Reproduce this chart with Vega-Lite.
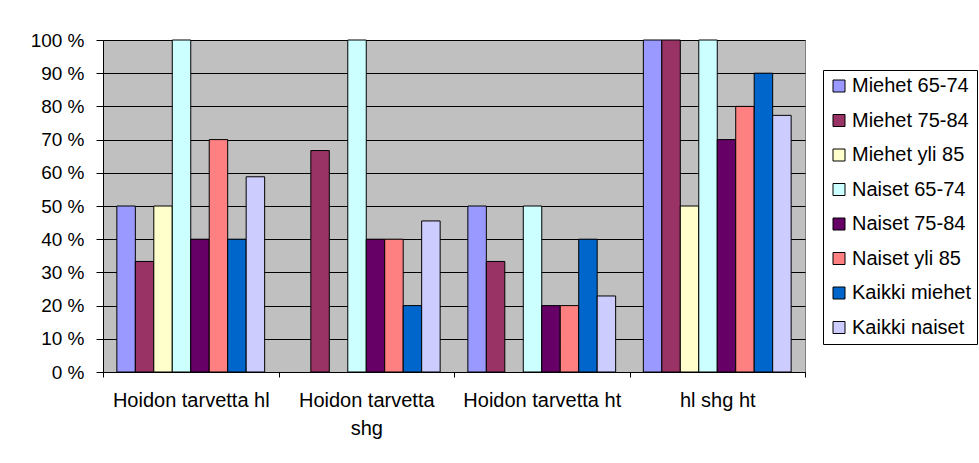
{
  "$schema": "https://vega.github.io/schema/vega-lite/v6.json",
  "autosize": {"type": "none"},
  "width": 702,
  "height": 332,
  "padding": {"left": 103, "top": 40, "right": 174, "bottom": 91},
  "background": "white",
  "data": {
    "values": [
      {"ryhma": "Hoidon tarvetta hl", "sarja": "Miehet 65-74", "osuus": 50},
      {"ryhma": "Hoidon tarvetta hl", "sarja": "Miehet 75-84", "osuus": 33.3},
      {"ryhma": "Hoidon tarvetta hl", "sarja": "Miehet yli 85", "osuus": 50},
      {"ryhma": "Hoidon tarvetta hl", "sarja": "Naiset 65-74", "osuus": 100},
      {"ryhma": "Hoidon tarvetta hl", "sarja": "Naiset 75-84", "osuus": 40},
      {"ryhma": "Hoidon tarvetta hl", "sarja": "Naiset yli 85", "osuus": 70},
      {"ryhma": "Hoidon tarvetta hl", "sarja": "Kaikki miehet", "osuus": 40},
      {"ryhma": "Hoidon tarvetta hl", "sarja": "Kaikki naiset", "osuus": 58.8},
      {"ryhma": "Hoidon tarvetta shg", "sarja": "Miehet 75-84", "osuus": 66.7},
      {"ryhma": "Hoidon tarvetta shg", "sarja": "Naiset 65-74", "osuus": 100},
      {"ryhma": "Hoidon tarvetta shg", "sarja": "Naiset 75-84", "osuus": 40},
      {"ryhma": "Hoidon tarvetta shg", "sarja": "Naiset yli 85", "osuus": 40},
      {"ryhma": "Hoidon tarvetta shg", "sarja": "Kaikki miehet", "osuus": 20},
      {"ryhma": "Hoidon tarvetta shg", "sarja": "Kaikki naiset", "osuus": 45.5},
      {"ryhma": "Hoidon tarvetta ht", "sarja": "Miehet 65-74", "osuus": 50},
      {"ryhma": "Hoidon tarvetta ht", "sarja": "Miehet 75-84", "osuus": 33.3},
      {"ryhma": "Hoidon tarvetta ht", "sarja": "Naiset 65-74", "osuus": 50},
      {"ryhma": "Hoidon tarvetta ht", "sarja": "Naiset 75-84", "osuus": 20},
      {"ryhma": "Hoidon tarvetta ht", "sarja": "Naiset yli 85", "osuus": 20},
      {"ryhma": "Hoidon tarvetta ht", "sarja": "Kaikki miehet", "osuus": 40},
      {"ryhma": "Hoidon tarvetta ht", "sarja": "Kaikki naiset", "osuus": 22.9},
      {"ryhma": "hl shg ht", "sarja": "Miehet 65-74", "osuus": 100},
      {"ryhma": "hl shg ht", "sarja": "Miehet 75-84", "osuus": 100},
      {"ryhma": "hl shg ht", "sarja": "Miehet yli 85", "osuus": 50},
      {"ryhma": "hl shg ht", "sarja": "Naiset 65-74", "osuus": 100},
      {"ryhma": "hl shg ht", "sarja": "Naiset 75-84", "osuus": 70},
      {"ryhma": "hl shg ht", "sarja": "Naiset yli 85", "osuus": 80},
      {"ryhma": "hl shg ht", "sarja": "Kaikki miehet", "osuus": 90},
      {"ryhma": "hl shg ht", "sarja": "Kaikki naiset", "osuus": 77.3}
    ]
  },
  "mark": {"type": "bar", "stroke": "black", "strokeWidth": 1, "opacity": 1},
  "encoding": {
    "x": {
      "field": "ryhma",
      "type": "nominal",
      "sort": ["Hoidon tarvetta hl", "Hoidon tarvetta shg", "Hoidon tarvetta ht", "hl shg ht"],
      "scale": {"paddingInner": 0, "paddingOuter": 0},
      "axis": {
        "title": null,
        "labelAngle": 0,
        "tickBand": "extent",
        "tickSize": 5,
        "tickColor": "black",
        "domainColor": "black",
        "labelFont": "Liberation Sans",
        "labelFontSize": 20,
        "labelColor": "black",
        "labelPadding": 13,
        "labelLineHeight": 28,
        "labelExpr": "datum.value == 'Hoidon tarvetta shg' ? ['Hoidon tarvetta', 'shg'] : datum.value"
      }
    },
    "xOffset": {
      "field": "sarja",
      "type": "nominal",
      "sort": ["Miehet 65-74", "Miehet 75-84", "Miehet yli 85", "Naiset 65-74", "Naiset 75-84", "Naiset yli 85", "Kaikki miehet", "Kaikki naiset"],
      "scale": {"paddingInner": 0, "paddingOuter": 0.75}
    },
    "y": {
      "field": "osuus",
      "type": "quantitative",
      "scale": {"domain": [0, 100], "nice": false},
      "axis": {
        "title": null,
        "values": [0, 10, 20, 30, 40, 50, 60, 70, 80, 90, 100],
        "labelExpr": "datum.value + ' %'",
        "grid": true,
        "gridColor": "black",
        "gridOpacity": 1,
        "tickSize": 7,
        "tickColor": "black",
        "domainColor": "black",
        "labelFont": "Liberation Sans",
        "labelFontSize": 19,
        "labelColor": "black",
        "labelPadding": 12
      }
    },
    "color": {
      "field": "sarja",
      "type": "nominal",
      "sort": ["Miehet 65-74", "Miehet 75-84", "Miehet yli 85", "Naiset 65-74", "Naiset 75-84", "Naiset yli 85", "Kaikki miehet", "Kaikki naiset"],
      "scale": {
        "domain": ["Miehet 65-74", "Miehet 75-84", "Miehet yli 85", "Naiset 65-74", "Naiset 75-84", "Naiset yli 85", "Kaikki miehet", "Kaikki naiset"],
        "range": ["#9999FF", "#993366", "#FFFFCC", "#CCFFFF", "#660066", "#FF8080", "#0066CC", "#CCCCFF"]
      },
      "legend": {
        "title": null,
        "orient": "none",
        "legendX": 720,
        "legendY": 30,
        "strokeColor": "black",
        "fillColor": "white",
        "padding": 6,
        "symbolType": "square",
        "symbolSize": 144,
        "symbolStrokeColor": "black",
        "symbolStrokeWidth": 1,
        "symbolOpacity": 1,
        "labelFont": "Liberation Sans",
        "labelFontSize": 20,
        "labelColor": "black",
        "labelOffset": 3,
        "labelLimit": 200,
        "rowPadding": 14.5
      }
    }
  },
  "config": {
    "view": {"fill": "#C0C0C0", "stroke": "#808080", "strokeWidth": 1}
  }
}
